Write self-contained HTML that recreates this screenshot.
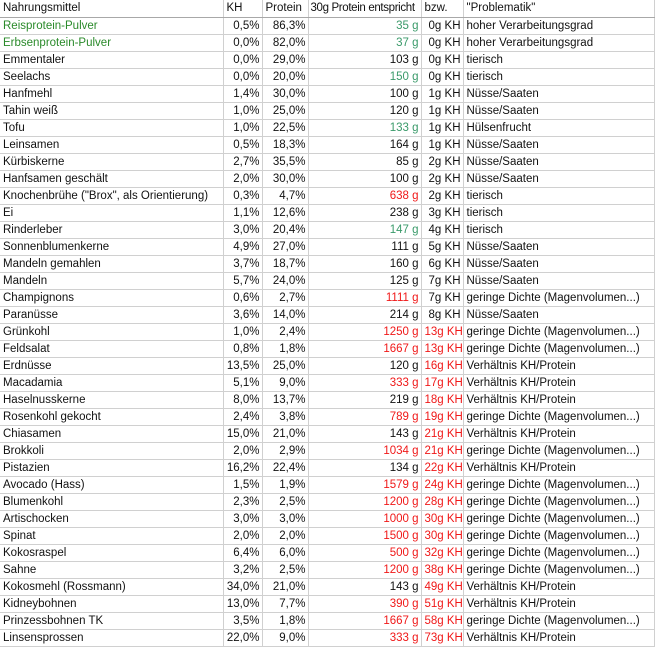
<!DOCTYPE html><html><head><meta charset="utf-8"><style>
body{margin:0;background:#fff;width:655px;height:649px;overflow:hidden;font-family:"Liberation Sans",sans-serif;font-size:11.5px;color:#111;}
table{border-collapse:collapse;table-layout:fixed;position:absolute;left:0;top:0;width:654px;}
td{box-sizing:border-box;height:17px;padding:0 2px 0 3px;border-right:1px solid #d0d0d0;border-bottom:1px solid #d0d0d0;white-space:nowrap;overflow:hidden;line-height:16px;}
tr:first-child td{border-bottom:1px solid #a8a8a8;}
td.kh{border-left:1px solid #888;}
.r{text-align:right;}
.g{color:#2a8a2a}.t{color:#3a9a6a}.x{color:#f01818}
.n{letter-spacing:-0.35px;padding-left:2px}
</style></head><body>
<table>
<colgroup><col style="width:223px"><col style="width:39px"><col style="width:46px"><col style="width:113px"><col style="width:42px"><col style="width:191px"></colgroup>
<tr><td>Nahrungsmittel</td><td class="kh">KH</td><td>Protein</td><td class="n">30g Protein entspricht</td><td>bzw.</td><td>"Problematik"</td></tr>
<tr><td class="g">Reisprotein-Pulver</td><td class="kh r">0,5%</td><td class="r">86,3%</td><td class="r t">35 g</td><td class="r">0g KH</td><td>hoher Verarbeitungsgrad</td></tr>
<tr><td class="g">Erbsenprotein-Pulver</td><td class="kh r">0,0%</td><td class="r">82,0%</td><td class="r t">37 g</td><td class="r">0g KH</td><td>hoher Verarbeitungsgrad</td></tr>
<tr><td>Emmentaler</td><td class="kh r">0,0%</td><td class="r">29,0%</td><td class="r">103 g</td><td class="r">0g KH</td><td>tierisch</td></tr>
<tr><td>Seelachs</td><td class="kh r">0,0%</td><td class="r">20,0%</td><td class="r t">150 g</td><td class="r">0g KH</td><td>tierisch</td></tr>
<tr><td>Hanfmehl</td><td class="kh r">1,4%</td><td class="r">30,0%</td><td class="r">100 g</td><td class="r">1g KH</td><td>Nüsse/Saaten</td></tr>
<tr><td>Tahin weiß</td><td class="kh r">1,0%</td><td class="r">25,0%</td><td class="r">120 g</td><td class="r">1g KH</td><td>Nüsse/Saaten</td></tr>
<tr><td>Tofu</td><td class="kh r">1,0%</td><td class="r">22,5%</td><td class="r t">133 g</td><td class="r">1g KH</td><td>Hülsenfrucht</td></tr>
<tr><td>Leinsamen</td><td class="kh r">0,5%</td><td class="r">18,3%</td><td class="r">164 g</td><td class="r">1g KH</td><td>Nüsse/Saaten</td></tr>
<tr><td>Kürbiskerne</td><td class="kh r">2,7%</td><td class="r">35,5%</td><td class="r">85 g</td><td class="r">2g KH</td><td>Nüsse/Saaten</td></tr>
<tr><td>Hanfsamen geschält</td><td class="kh r">2,0%</td><td class="r">30,0%</td><td class="r">100 g</td><td class="r">2g KH</td><td>Nüsse/Saaten</td></tr>
<tr><td>Knochenbrühe ("Brox", als Orientierung)</td><td class="kh r">0,3%</td><td class="r">4,7%</td><td class="r x">638 g</td><td class="r">2g KH</td><td>tierisch</td></tr>
<tr><td>Ei</td><td class="kh r">1,1%</td><td class="r">12,6%</td><td class="r">238 g</td><td class="r">3g KH</td><td>tierisch</td></tr>
<tr><td>Rinderleber</td><td class="kh r">3,0%</td><td class="r">20,4%</td><td class="r t">147 g</td><td class="r">4g KH</td><td>tierisch</td></tr>
<tr><td>Sonnenblumenkerne</td><td class="kh r">4,9%</td><td class="r">27,0%</td><td class="r">111 g</td><td class="r">5g KH</td><td>Nüsse/Saaten</td></tr>
<tr><td>Mandeln gemahlen</td><td class="kh r">3,7%</td><td class="r">18,7%</td><td class="r">160 g</td><td class="r">6g KH</td><td>Nüsse/Saaten</td></tr>
<tr><td>Mandeln</td><td class="kh r">5,7%</td><td class="r">24,0%</td><td class="r">125 g</td><td class="r">7g KH</td><td>Nüsse/Saaten</td></tr>
<tr><td>Champignons</td><td class="kh r">0,6%</td><td class="r">2,7%</td><td class="r x">1111 g</td><td class="r">7g KH</td><td>geringe Dichte (Magenvolumen...)</td></tr>
<tr><td>Paranüsse</td><td class="kh r">3,6%</td><td class="r">14,0%</td><td class="r">214 g</td><td class="r">8g KH</td><td>Nüsse/Saaten</td></tr>
<tr><td>Grünkohl</td><td class="kh r">1,0%</td><td class="r">2,4%</td><td class="r x">1250 g</td><td class="r x">13g KH</td><td>geringe Dichte (Magenvolumen...)</td></tr>
<tr><td>Feldsalat</td><td class="kh r">0,8%</td><td class="r">1,8%</td><td class="r x">1667 g</td><td class="r x">13g KH</td><td>geringe Dichte (Magenvolumen...)</td></tr>
<tr><td>Erdnüsse</td><td class="kh r">13,5%</td><td class="r">25,0%</td><td class="r">120 g</td><td class="r x">16g KH</td><td>Verhältnis KH/Protein</td></tr>
<tr><td>Macadamia</td><td class="kh r">5,1%</td><td class="r">9,0%</td><td class="r x">333 g</td><td class="r x">17g KH</td><td>Verhältnis KH/Protein</td></tr>
<tr><td>Haselnusskerne</td><td class="kh r">8,0%</td><td class="r">13,7%</td><td class="r">219 g</td><td class="r x">18g KH</td><td>Verhältnis KH/Protein</td></tr>
<tr><td>Rosenkohl gekocht</td><td class="kh r">2,4%</td><td class="r">3,8%</td><td class="r x">789 g</td><td class="r x">19g KH</td><td>geringe Dichte (Magenvolumen...)</td></tr>
<tr><td>Chiasamen</td><td class="kh r">15,0%</td><td class="r">21,0%</td><td class="r">143 g</td><td class="r x">21g KH</td><td>Verhältnis KH/Protein</td></tr>
<tr><td>Brokkoli</td><td class="kh r">2,0%</td><td class="r">2,9%</td><td class="r x">1034 g</td><td class="r x">21g KH</td><td>geringe Dichte (Magenvolumen...)</td></tr>
<tr><td>Pistazien</td><td class="kh r">16,2%</td><td class="r">22,4%</td><td class="r">134 g</td><td class="r x">22g KH</td><td>Verhältnis KH/Protein</td></tr>
<tr><td>Avocado (Hass)</td><td class="kh r">1,5%</td><td class="r">1,9%</td><td class="r x">1579 g</td><td class="r x">24g KH</td><td>geringe Dichte (Magenvolumen...)</td></tr>
<tr><td>Blumenkohl</td><td class="kh r">2,3%</td><td class="r">2,5%</td><td class="r x">1200 g</td><td class="r x">28g KH</td><td>geringe Dichte (Magenvolumen...)</td></tr>
<tr><td>Artischocken</td><td class="kh r">3,0%</td><td class="r">3,0%</td><td class="r x">1000 g</td><td class="r x">30g KH</td><td>geringe Dichte (Magenvolumen...)</td></tr>
<tr><td>Spinat</td><td class="kh r">2,0%</td><td class="r">2,0%</td><td class="r x">1500 g</td><td class="r x">30g KH</td><td>geringe Dichte (Magenvolumen...)</td></tr>
<tr><td>Kokosraspel</td><td class="kh r">6,4%</td><td class="r">6,0%</td><td class="r x">500 g</td><td class="r x">32g KH</td><td>geringe Dichte (Magenvolumen...)</td></tr>
<tr><td>Sahne</td><td class="kh r">3,2%</td><td class="r">2,5%</td><td class="r x">1200 g</td><td class="r x">38g KH</td><td>geringe Dichte (Magenvolumen...)</td></tr>
<tr><td>Kokosmehl (Rossmann)</td><td class="kh r">34,0%</td><td class="r">21,0%</td><td class="r">143 g</td><td class="r x">49g KH</td><td>Verhältnis KH/Protein</td></tr>
<tr><td>Kidneybohnen</td><td class="kh r">13,0%</td><td class="r">7,7%</td><td class="r x">390 g</td><td class="r x">51g KH</td><td>Verhältnis KH/Protein</td></tr>
<tr><td>Prinzessbohnen TK</td><td class="kh r">3,5%</td><td class="r">1,8%</td><td class="r x">1667 g</td><td class="r x">58g KH</td><td>geringe Dichte (Magenvolumen...)</td></tr>
<tr><td>Linsensprossen</td><td class="kh r">22,0%</td><td class="r">9,0%</td><td class="r x">333 g</td><td class="r x">73g KH</td><td>Verhältnis KH/Protein</td></tr>
</table>
</body></html>
